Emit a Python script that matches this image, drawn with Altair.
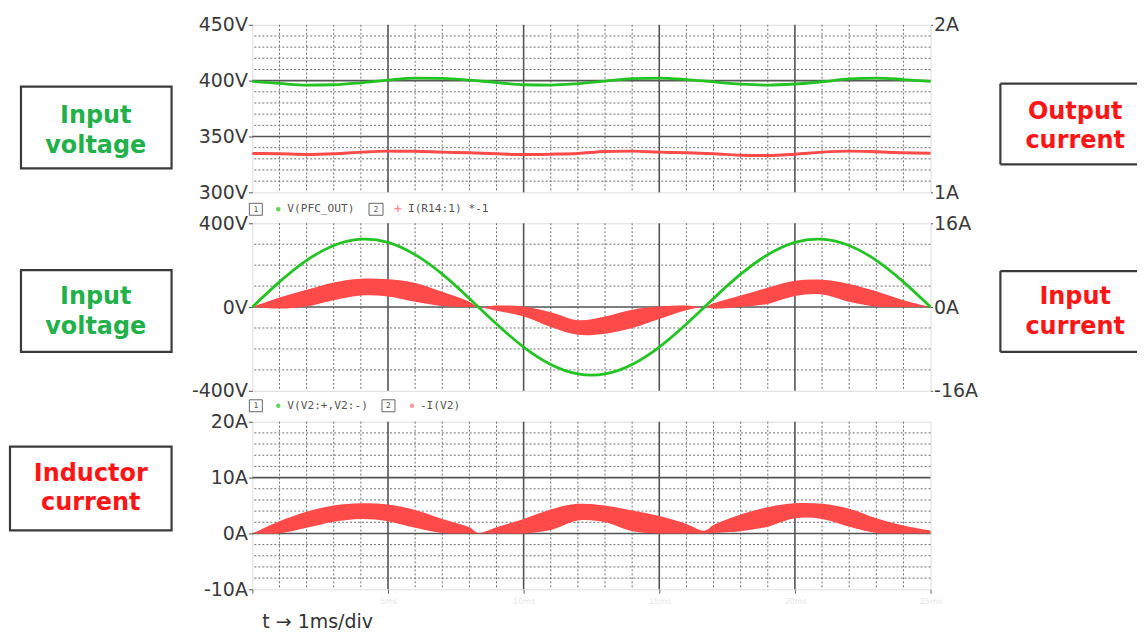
import altair as alt
import pandas as pd

# ---------------- data ----------------
t = list(range(26))  # ms
# panel 1: V(PFC_OUT) [V] and I(R14:1)*-1 [A]
v_out = [399.3, 397.5, 396.0, 396.3, 398.0, 400.5, 402.3, 402.0, 400.5, 398.3,
         396.3, 396.0, 397.3, 399.5, 401.8, 402.3, 401.0, 398.8, 396.8, 396.0,
         397.0, 399.0, 401.5, 402.3, 401.0, 399.3]
i_out = [1.232, 1.230, 1.226, 1.230, 1.240, 1.246, 1.245, 1.240, 1.236, 1.230,
         1.226, 1.228, 1.232, 1.244, 1.246, 1.240, 1.236, 1.230, 1.222, 1.220,
         1.228, 1.240, 1.246, 1.242, 1.236, 1.234]
# panel 2: V(V2:+,V2:-) [V]
v_in = [0, 120, 223, 294, 324, 309, 250, 157, 41, -81, -191, -274, -319, -319,
        -274, -191, -81, 41, 157, 250, 309, 324, 294, 223, 120, 0]
# band time points (ms)
tb = [0, 1, 2, 3, 4, 5, 6, 7, 8, 8.33, 9, 10, 11, 12, 13, 14, 15, 16, 16.67,
      17, 18, 19, 20, 21, 22, 23, 24, 25]
# panel 2: -I(V2) [A] envelope
i_in_hi = [0, 1.8, 3.3, 4.7, 5.4, 5.3, 4.6, 2.9, 1.0, 0.0, 0.3, 0.1, -1.0, -2.5,
           -1.8, -0.5, 0.1, 0.3, 0.0, 0.7, 2.2, 3.7, 5.0, 5.2, 4.4, 3.0, 1.3, 0.0]
i_in_lo = [0, -0.3, 0.1, 1.3, 2.2, 2.0, 1.0, 0.2, 0.0, 0.0, -0.7, -1.8, -3.8, -5.3,
           -5.1, -4.0, -2.3, -0.6, 0.0, -0.3, 0.0, 0.6, 2.1, 2.4, 1.0, 0.1, 0.0, 0.0]
# panel 3: inductor current [A] envelope
i_l_hi = [0, 2.2, 3.9, 5.0, 5.4, 5.2, 4.2, 2.6, 1.1, 0.1, 1.1, 2.6, 4.3, 5.3,
          5.0, 4.1, 3.1, 1.7, 0.5, 1.5, 3.4, 4.7, 5.4, 5.3, 4.4, 2.7, 1.4, 0.5]
i_l_lo = [0, 0, 1.0, 2.1, 2.6, 2.2, 1.0, 0.1, 0.0, 0.0, 0.0, 0.0, 0.6, 2.3,
          2.0, 0.4, 0.0, 0.0, 0.0, 0.1, 0.4, 1.2, 2.7, 2.6, 1.2, 0.1, 0.0, 0.0]

# grid / tick values
x_minor = [v for v in range(1, 25) if v % 5]
x_major = [5, 10, 15, 20]
x_ticks = [0, 5, 10, 15, 20, 25]
y1_ticks = [300, 350, 400, 450]
y1_minor = [v for v in range(310, 450, 10) if v % 50]
y1_major = [350, 400]
y1r_ticks = [1, 2]
y2_ticks = [-400, 0, 400]
y2_minor = [-300, -200, -100, 100, 200, 300]
y2_major = [0]
y2r_ticks = [-16, 0, 16]
y3_ticks = [-10, 0, 10, 20]
y3_minor = [v for v in range(-8, 20, 2) if v % 10]
y3_major = [0, 10]

GREEN = "#22c322"
RED = "#ff4a4a"
TXT_GREEN = "#22b04a"
TXT_RED = "#ff1515"
W, H = 680, 168

xs = alt.Scale(domain=[0, 25], nice=False, zero=False)
one = alt.Data(values=[{}])


def hrules(vals, ys, major, axis):
    mk = alt.Chart(pd.DataFrame({"v": vals})).mark_rule(
        color="#555555" if major else "#6e6e6e",
        strokeWidth=1.6 if major else 1,
        strokeDash=alt.Undefined if major else [2, 2])
    return mk.encode(y=alt.Y("v:Q", scale=ys, axis=axis, title=None))


def vrules(vals, major, axis):
    mk = alt.Chart(pd.DataFrame({"v": vals})).mark_rule(
        color="#555555" if major else "#6e6e6e",
        strokeWidth=1.6 if major else 1,
        strokeDash=alt.Undefined if major else [2, 2])
    return mk.encode(x=alt.X("v:Q", scale=xs, axis=axis, title=None))


def left_axis(vals, unit):
    return alt.Axis(orient="left", values=vals, labelExpr=f"datum.value + '{unit}'",
                    grid=False, domain=False, ticks=True, tickSize=4, tickColor="#555",
                    labelFont="DejaVu Sans", labelFontSize=19, labelColor="#3a3a3a",
                    labelPadding=1, labelFlush=False, labelOverlap=False, title=None)


def right_axis(vals):
    return alt.Axis(orient="right", values=vals, labelExpr="datum.value + 'A'",
                    grid=False, domain=False, ticks=True, tickSize=2, tickColor="#555",
                    labelFont="DejaVu Sans", labelFontSize=19, labelColor="#3a3a3a",
                    labelPadding=1, labelFlush=False, labelOverlap=False, title=None)


def box(x1, x2, y1, y2):
    return alt.Chart(one).mark_rect(fill="white", stroke="#3a3a3a", strokeWidth=2.2).encode(
        x=alt.value(x1), x2=alt.value(x2), y=alt.value(y1), y2=alt.value(y2))


def open_box(x1, x2, y1, y2):
    top = alt.Chart(one).mark_rule(color="#3a3a3a", strokeWidth=2.2).encode(
        x=alt.value(x1), x2=alt.value(x2), y=alt.value(y1))
    bot = alt.Chart(one).mark_rule(color="#3a3a3a", strokeWidth=2.2).encode(
        x=alt.value(x1), x2=alt.value(x2), y=alt.value(y2))
    lft = alt.Chart(one).mark_rule(color="#3a3a3a", strokeWidth=2.2).encode(
        x=alt.value(x1), y=alt.value(y1), y2=alt.value(y2))
    return [top, bot, lft]


def word(txt, x, y, color, size=24, bold=True, font="DejaVu Sans", align="center",
         baseline="middle"):
    return alt.Chart(one).mark_text(
        text=txt, font=font, fontWeight="bold" if bold else "normal", fontSize=size,
        color=color, align=align, baseline=baseline).encode(x=alt.value(x), y=alt.value(y))


def legend_num(x1, x2, y, num):
    r = alt.Chart(one).mark_rect(fill="white", stroke="#666", strokeWidth=1).encode(
        x=alt.value(x1), x2=alt.value(x2), y=alt.value(y - 6), y2=alt.value(y + 6))
    n = word(num, (x1 + x2) / 2, y + 0.5, "#555", size=8, bold=False, font="DejaVu Sans Mono")
    return [r, n]


def legend_txt(txt, x, y):
    return word(txt, x, y, "#555", size=11.2, bold=False, font="DejaVu Sans Mono", align="left")


def dot(x, y, color):
    return alt.Chart(one).mark_circle(size=20, color=color, opacity=1).encode(
        x=alt.value(x), y=alt.value(y))


def grid(ys, minor, major, ticks, unit, xaxis):
    ya = left_axis(ticks, unit)
    return alt.layer(
        hrules(minor, ys, False, ya),
        vrules(x_minor, False, xaxis),
        vrules(x_major, True, xaxis),
        hrules(major, ys, True, ya),
    )


# ---------------- panel 1 ----------------
ys1 = alt.Scale(domain=[300, 450], nice=False, zero=False)
ys1r = alt.Scale(domain=[1, 2], nice=False, zero=False)
d1 = pd.DataFrame({"t": t, "v": v_out, "i": i_out})
p1_red = alt.Chart(d1).mark_line(color=RED, strokeWidth=3, interpolate="monotone").encode(
    x=alt.X("t:Q", scale=xs, axis=None),
    y=alt.Y("i:Q", scale=ys1r, axis=right_axis(y1r_ticks)))
p1_green = alt.Chart(d1).mark_line(color=GREEN, strokeWidth=2.8, interpolate="monotone").encode(
    x=alt.X("t:Q", scale=xs, axis=None),
    y=alt.Y("v:Q", scale=ys1, axis=None))
p1 = alt.layer(
    grid(ys1, y1_minor, y1_major, y1_ticks, "V", None), p1_red, p1_green,
    box(-232, -81, 62, 144),
    word("Input", -157, 91, TXT_GREEN), word("voltage", -157, 122, TXT_GREEN),
    *open_box(750, 887, 59, 140),
    word("Output", 825, 87, TXT_RED), word("current", 825, 117, TXT_RED),
    *legend_num(-3, 10, 185, "1"), dot(26, 185, "#5fd35f"), legend_txt("V(PFC_OUT)", 35, 185),
    *legend_num(117, 131, 185, "2"), word("+", 146, 185, "#ff8a8a", size=11, bold=True),
    legend_txt("I(R14:1) *-1", 156, 185),
).resolve_scale(y="independent").properties(width=W, height=H)

# ---------------- panel 2 ----------------
ys2 = alt.Scale(domain=[-400, 400], nice=False, zero=False)
ys2r = alt.Scale(domain=[-16, 16], nice=False, zero=False)
d2v = pd.DataFrame({"t": t, "v": v_in})
d2i = pd.DataFrame({"t": tb, "lo": i_in_lo, "hi": i_in_hi})
p2_red = alt.Chart(d2i).mark_area(color=RED, opacity=1, interpolate="catmull-rom").encode(
    x=alt.X("t:Q", scale=xs, axis=None),
    y=alt.Y("lo:Q", scale=ys2r, axis=right_axis(y2r_ticks)),
    y2="hi:Q")
p2_green = alt.Chart(d2v).mark_line(color=GREEN, strokeWidth=2.8, interpolate="natural").encode(
    x=alt.X("t:Q", scale=xs, axis=None),
    y=alt.Y("v:Q", scale=ys2, axis=None))
p2 = alt.layer(
    grid(ys2, y2_minor, y2_major, y2_ticks, "V", None), p2_red, p2_green,
    box(-232, -81, 47, 129),
    word("Input", -157, 74, TXT_GREEN), word("voltage", -157, 104, TXT_GREEN),
    *open_box(750, 887, 48, 129),
    word("Input", 825, 74, TXT_RED), word("current", 825, 104, TXT_RED),
    *legend_num(-3, 10, 183, "1"), dot(26, 183, "#5fd35f"), legend_txt("V(V2:+,V2:-)", 35, 183),
    *legend_num(130, 143, 183, "2"), dot(160, 183, "#ff9a9a"),
    legend_txt("-I(V2)", 168, 183),
).resolve_scale(y="independent").properties(width=W, height=H)

# ---------------- panel 3 ----------------
ys3 = alt.Scale(domain=[-10, 20], nice=False, zero=False)
d3 = pd.DataFrame({"t": tb, "lo": i_l_lo, "hi": i_l_hi})
x_axis3 = alt.Axis(values=x_ticks, grid=False, domain=False, ticks=True, tickSize=4,
                   tickColor="#666", labelExpr="datum.value == 0 ? '' : datum.value + 'ms'",
                   labelColor="#e4e4e4", labelFontSize=8, labelFont="DejaVu Sans",
                   labelFlush=False, labelPadding=4, title=None)
p3_red = alt.Chart(d3).mark_area(color=RED, opacity=1, interpolate="catmull-rom").encode(
    x=alt.X("t:Q", scale=xs, axis=x_axis3),
    y=alt.Y("lo:Q", scale=ys3, axis=left_axis(y3_ticks, "A")),
    y2="hi:Q")
p3 = alt.layer(
    grid(ys3, y3_minor, y3_major, y3_ticks, "A", x_axis3), p3_red,
    box(-243, -81, 25, 109),
    word("Inductor", -162, 52, TXT_RED), word("current", -162, 82, TXT_RED),
    word("t \u2192 1ms/div", 10, 207, "#333333", size=19, bold=False, align="left",
         baseline="alphabetic"),
).properties(width=W, height=H)

chart = alt.vconcat(p1, p2, p3, spacing=31, bounds="flush").properties(
    padding={"left": 0, "top": 6, "right": 0, "bottom": 0}
).configure_view(stroke="#666666", strokeWidth=2).configure(background="white")

chart.save("out.html", embed_options={"renderer": "svg", "actions": False})
